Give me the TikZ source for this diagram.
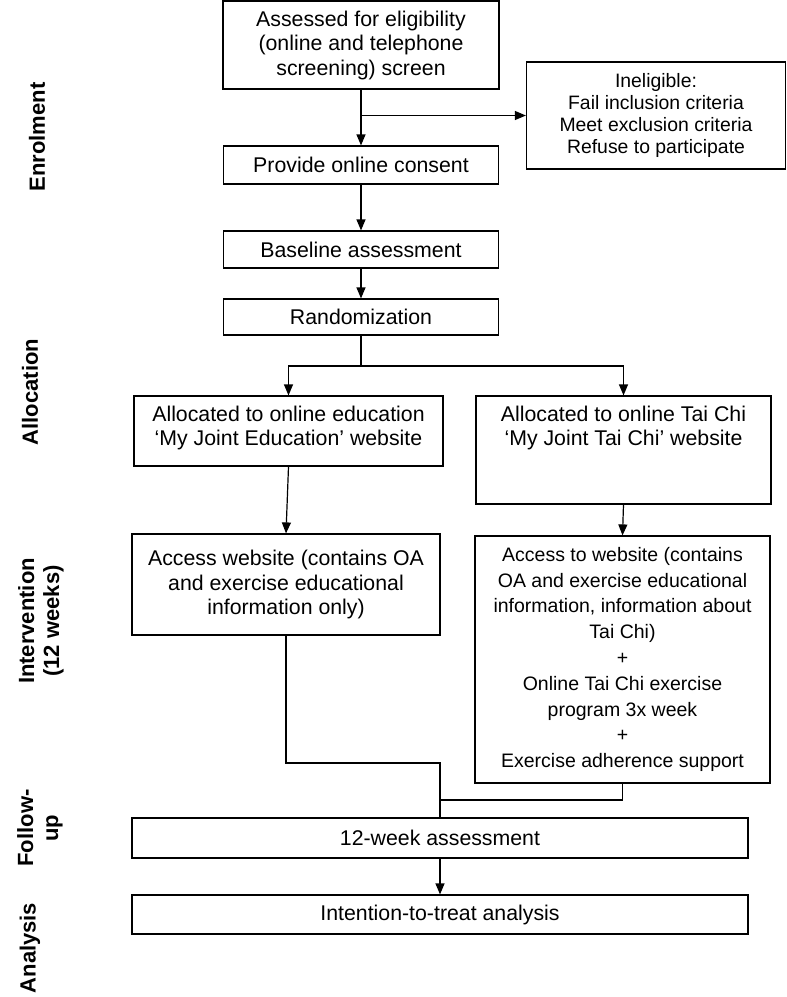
\documentclass[tikz,border=0pt]{standalone}
\usepackage{fontspec}
\setmainfont{Liberation Sans}
\usetikzlibrary{arrows.meta}
\begin{document}
\begin{tikzpicture}[x=1pt,y=-1pt,
  box/.style={draw, line width=1.2pt, inner sep=0pt, align=center, font=\fontsize{21.3}{24.5}\selectfont},
  txt/.style={inner sep=0pt, align=center, font=\fontsize{21.3}{24.5}\selectfont},
  lbl/.style={rotate=90, inner sep=0pt, align=center, font=\bfseries\fontsize{22}{25}\selectfont},
  conn/.style={line width=1.2pt},
  arr/.style={conn, -{Triangle[length=11pt,width=9pt]}}]
\useasboundingbox (0,0) rectangle (787,997);

% left stage labels
\node[lbl] (enr) at (37,137) {Enrolment};
\node[lbl] (alc) at (30,392) {Allocation};
\node[lbl] (int) at (41,621) {Intervention\\(12 weeks)};
\node[lbl] (fol) at (40,828) {Follow-\\up};
\node[lbl] (ana) at (30,948) {Analysis};

% boxes
\node[box, minimum width=276pt, minimum height=88pt] (b1) at (361,45)
  {Assessed for eligibility\\(online and telephone\\screening) screen};
\node[box, minimum width=259pt, minimum height=107pt, font=\fontsize{19.4}{22.3}\selectfont] (inel) at (656,115.5)
  {Ineligible:\\Fail inclusion criteria\\Meet exclusion criteria\\Refuse to participate};
\node[box, minimum width=275pt, minimum height=38pt] (consent) at (361,165) {Provide online consent};
\node[box, minimum width=275pt, minimum height=37pt] (base) at (361,249.5) {Baseline assessment};
\node[box, minimum width=275pt, minimum height=36pt] (rand) at (361,317) {Randomization};

\node[box, minimum width=309pt, minimum height=70pt] (allocL) at (288.5,431) {};
\node[txt] (allocLt) at (288.5,428) {Allocated to online education\\‘My Joint Education’ website};
\node[box, minimum width=295pt, minimum height=108pt] (allocR) at (623.5,450) {};
\node[txt] (allocRt) at (623.5,428) {Allocated to online Tai Chi\\‘My Joint Tai Chi’ website};

\node[box, minimum width=308pt, minimum height=101pt] (accL) at (286,584.5)
  {Access website (contains OA\\and exercise educational\\information only)};
\node[box, minimum width=295pt, minimum height=247pt, font=\fontsize{19.5}{25.8}\selectfont] (accR) at (622.5,659.5)
  {Access to website (contains\\OA and exercise educational\\information, information about\\Tai Chi)\\+\\Online Tai Chi exercise\\program 3x week\\+\\Exercise adherence support};

\node[box, minimum width=616pt, minimum height=40pt] (fu) at (440,838) {12-week assessment};
\node[box, minimum width=616pt, minimum height=39pt] (itt) at (440,914.5) {Intention-to-treat analysis};

% connectors
\coordinate (j1) at (b1.south |- inel.west);
\draw[arr] (b1.south) -- (consent.north);
\draw[arr] (j1) -- (inel.west);
\draw[arr] (consent.south) -- (base.north);
\draw[arr] (base.south) -- (rand.north);
\coordinate (split) at (361,366);
\draw[conn] (rand.south) -- (split);
\draw[arr] (split) -| (allocL.north);
\draw[arr] (split) -| (allocR.north);
\draw[arr] (allocL.south) -- (accL.north);
\draw[arr] (allocR.south) -- (accR.north);
\coordinate (m1) at (286,763);
\coordinate (m2) at (440,763);
\coordinate (m3) at (622.5,800);
\coordinate (m4) at (440,800);
\draw[conn] (accL.south) -- (m1) -- (m2) -- (fu.north);
\draw[conn] (accR.south) -- (m3) -- (m4);
\draw[arr] (fu.south) -- (itt.north);
\end{tikzpicture}
\end{document}
